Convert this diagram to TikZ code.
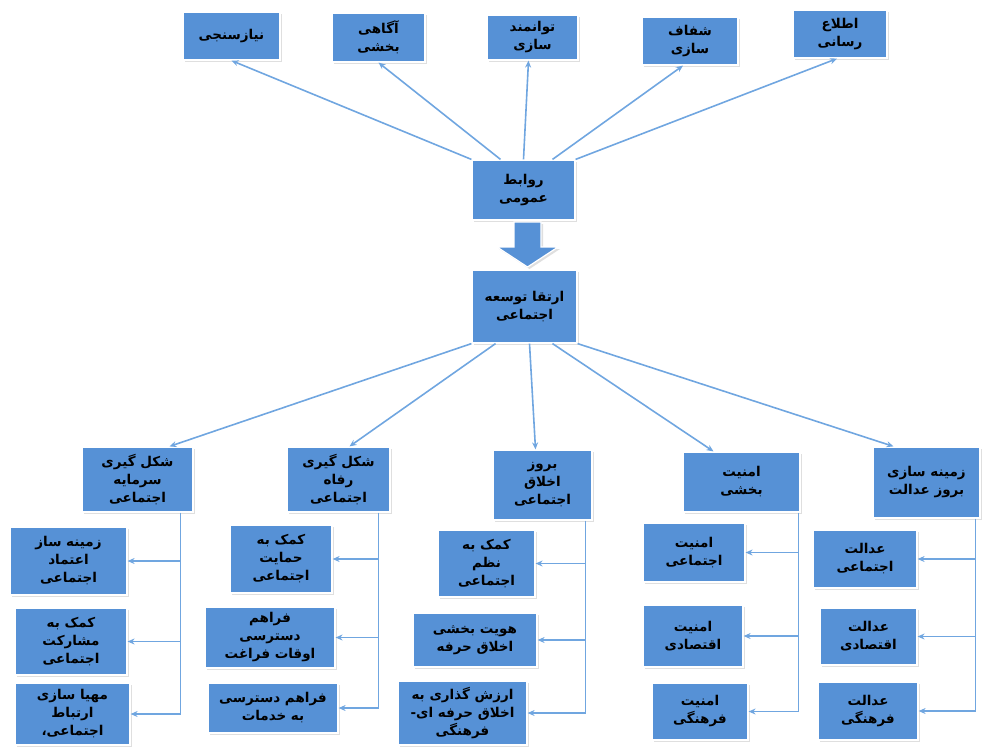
\documentclass[tikz,border=0pt]{standalone}
\usepackage{fontspec}
\usepackage{tikz}
\usetikzlibrary{
    arrows.meta,
    shadows,
    calc,
    positioning
}
\TeXXeTstate=1
\newfontfamily\farsi[Script=Arabic]{DejaVu Sans}
\newcommand{\fatext}[1]{\beginR #1\endR}
\definecolor{boxblue}{RGB}{86,145,214}
\definecolor{lineblue}{RGB}{112,166,224}
\tikzset{
    box/.style={fill=boxblue, draw=white, line width=1.2pt, inner sep=2pt,
        align=center, font=\farsi\bfseries\fontsize{13.5}{18}\selectfont,
        drop shadow={shadow xshift=2pt, shadow yshift=-2pt, fill=black!25}},
    link/.style={draw=lineblue, line width=1.6pt, -{Stealth[length=7pt,width=6pt]}},
    trunk/.style={draw=lineblue, line width=1.6pt}
}

\begin{document}
\begin{tikzpicture}[x=1pt, y=-1pt]
    \useasboundingbox (0, 0) rectangle (982, 747);

    % top row
    \node[box, minimum width=97, minimum height=48] (niaz) at (231.5, 36) {\fatext{نیازسنجی}};
    \node[box, minimum width=93, minimum height=49] (agahi) at (378.5, 37.5) {\fatext{آگاهی}\\\fatext{بخشی}};
    \node[box, minimum width=91, minimum height=45] (tavan) at (532.5, 37.5) {\fatext{توانمند}\\\fatext{سازی}};
    \node[box, minimum width=96, minimum height=48] (shafaf) at (690, 41) {\fatext{شفاف}\\\fatext{سازی}};
    \node[box, minimum width=94, minimum height=48] (etela) at (840, 34) {\fatext{اطلاع}\\\fatext{رسانی}};

    % center
    \node[box, minimum width=103, minimum height=60] (ravabet) at (523.5, 190) {\fatext{روابط}\\\fatext{عمومی}};
    \node[box, minimum width=105, minimum height=73] (ertegha) at (524.5, 306.5) {\fatext{ارتقا توسعه}\\\fatext{اجتماعی}};
    \filldraw[fill=boxblue, draw=white, line width=1.2pt,
        drop shadow={shadow xshift=2pt, shadow yshift=-2pt, fill=black!25}]
        (514, 222) -- (541, 222) -- (541, 247) -- (558, 247) -- (527.5, 267)
        -- (497, 247) -- (514, 247) -- cycle;

    % second row
    \node[box, minimum width=111, minimum height=65] (sarmaye) at (137.5, 479.5) {\fatext{شکل گیری}\\\fatext{سرمایه}\\\fatext{اجتماعی}};
    \node[box, minimum width=103, minimum height=65] (refah) at (338.5, 479.5) {\fatext{شکل گیری}\\\fatext{رفاه}\\\fatext{اجتماعی}};
    \node[box, minimum width=99, minimum height=70] (akhlagh) at (542.5, 485) {\fatext{بروز}\\\fatext{اخلاق}\\\fatext{اجتماعی}};
    \node[box, minimum width=117, minimum height=60] (amniat) at (741.5, 482) {\fatext{امنیت}\\\fatext{بخشی}};
    \node[box, minimum width=107, minimum height=71] (edalat) at (926.5, 482.5) {\fatext{زمینه سازی}\\\fatext{بروز عدالت}};

    % columns
    \node[box, minimum width=117, minimum height=68] (sarmaye1) at (68.5, 561) {\fatext{زمینه ساز}\\\fatext{اعتماد}\\\fatext{اجتماعی}};
    \node[box, minimum width=112, minimum height=67] (sarmaye2) at (71, 641.5) {\fatext{کمک به}\\\fatext{مشارکت}\\\fatext{اجتماعی}};
    \node[box, minimum width=115, minimum height=62] (sarmaye3) at (72.5, 714) {\fatext{مهیا سازی}\\\fatext{ارتباط}\\\fatext{اجتماعی،}};

    \node[box, minimum width=102, minimum height=68] (refah1) at (281, 559) {\fatext{کمک به}\\\fatext{حمایت}\\\fatext{اجتماعی}};
    \node[box, minimum width=130, minimum height=61] (refah2) at (270, 637.5) {\fatext{فراهم}\\\fatext{دسترسی}\\\fatext{اوقات فراغت}};
    \node[box, minimum width=130, minimum height=50] (refah3) at (273, 708) {\fatext{فراهم دسترسی}\\\fatext{به خدمات}};

    \node[box, minimum width=97, minimum height=67] (akhlagh1) at (486.5, 563.5) {\fatext{کمک به}\\\fatext{نظم}\\\fatext{اجتماعی}};
    \node[box, minimum width=124, minimum height=54] (akhlagh2) at (475, 640) {\fatext{هویت بخشی}\\\fatext{اخلاق حرفه}};
    \node[box, minimum width=129, minimum height=64] (akhlagh3) at (462.5, 713) {\fatext{ارزش گذاری به}\\\fatext{اخلاق حرفه ای-}\\\fatext{فرهنگی}};

    \node[box, minimum width=102, minimum height=59] (amniat1) at (694, 552.5) {\fatext{امنیت}\\\fatext{اجتماعی}};
    \node[box, minimum width=100, minimum height=62] (amniat2) at (693, 636) {\fatext{امنیت}\\\fatext{اقتصادی}};
    \node[box, minimum width=96, minimum height=57] (amniat3) at (700, 711.5) {\fatext{امنیت}\\\fatext{فرهنگی}};

    \node[box, minimum width=104, minimum height=58] (edalat1) at (865, 559) {\fatext{عدالت}\\\fatext{اجتماعی}};
    \node[box, minimum width=97, minimum height=57] (edalat2) at (868.5, 636.5) {\fatext{عدالت}\\\fatext{اقتصادی}};
    \node[box, minimum width=100, minimum height=58] (edalat3) at (868, 711) {\fatext{عدالت}\\\fatext{فرهنگی}};

    % links to the top row
    \draw[link] (ravabet.north west) -- (niaz.south);
    \draw[link] ($(ravabet.north)+(-23, 0)$) -- (agahi.south);
    \draw[link] (ravabet.north) -- ($(tavan.south)+(-4, 0)$);
    \draw[link] ($(ravabet.north)+(29, 0)$) -- ($(shafaf.south)+(-7, 0)$);
    \draw[link] (ravabet.north east) -- ($(etela.south)+(-3, 0)$);

    % links to the second row
    \draw[link] (ertegha.south west) -- ($(sarmaye.north)+(32, 0)$);
    \draw[link] ($(ertegha.south)+(-29, 0)$) -- ($(refah.north)+(11, 0)$);
    \draw[link] ($(ertegha.south)+(5, 0)$) -- ($(akhlagh.north)+(-7, 0)$);
    \draw[link] ($(ertegha.south)+(28, 0)$) -- ($(amniat.north)+(-28, 0)$);
    \draw[link] (ertegha.south east) -- ($(edalat.north)+(-33, 0)$);

    % trunks and branches
    \foreach \parent/\shift in {sarmaye/-13, refah/-12, akhlagh/-7, amniat/-2, edalat/-5}{
        \coordinate (\parent top) at ($(\parent.south east)+(\shift, 0)$);
        \draw[trunk] (\parent top) -- (\parent top |- \parent3.east);
        \foreach \i in {1, 2, 3}
            \draw[link] (\parent top |- \parent\i.east) -- (\parent\i.east);
    }
\end{tikzpicture}
\end{document}
